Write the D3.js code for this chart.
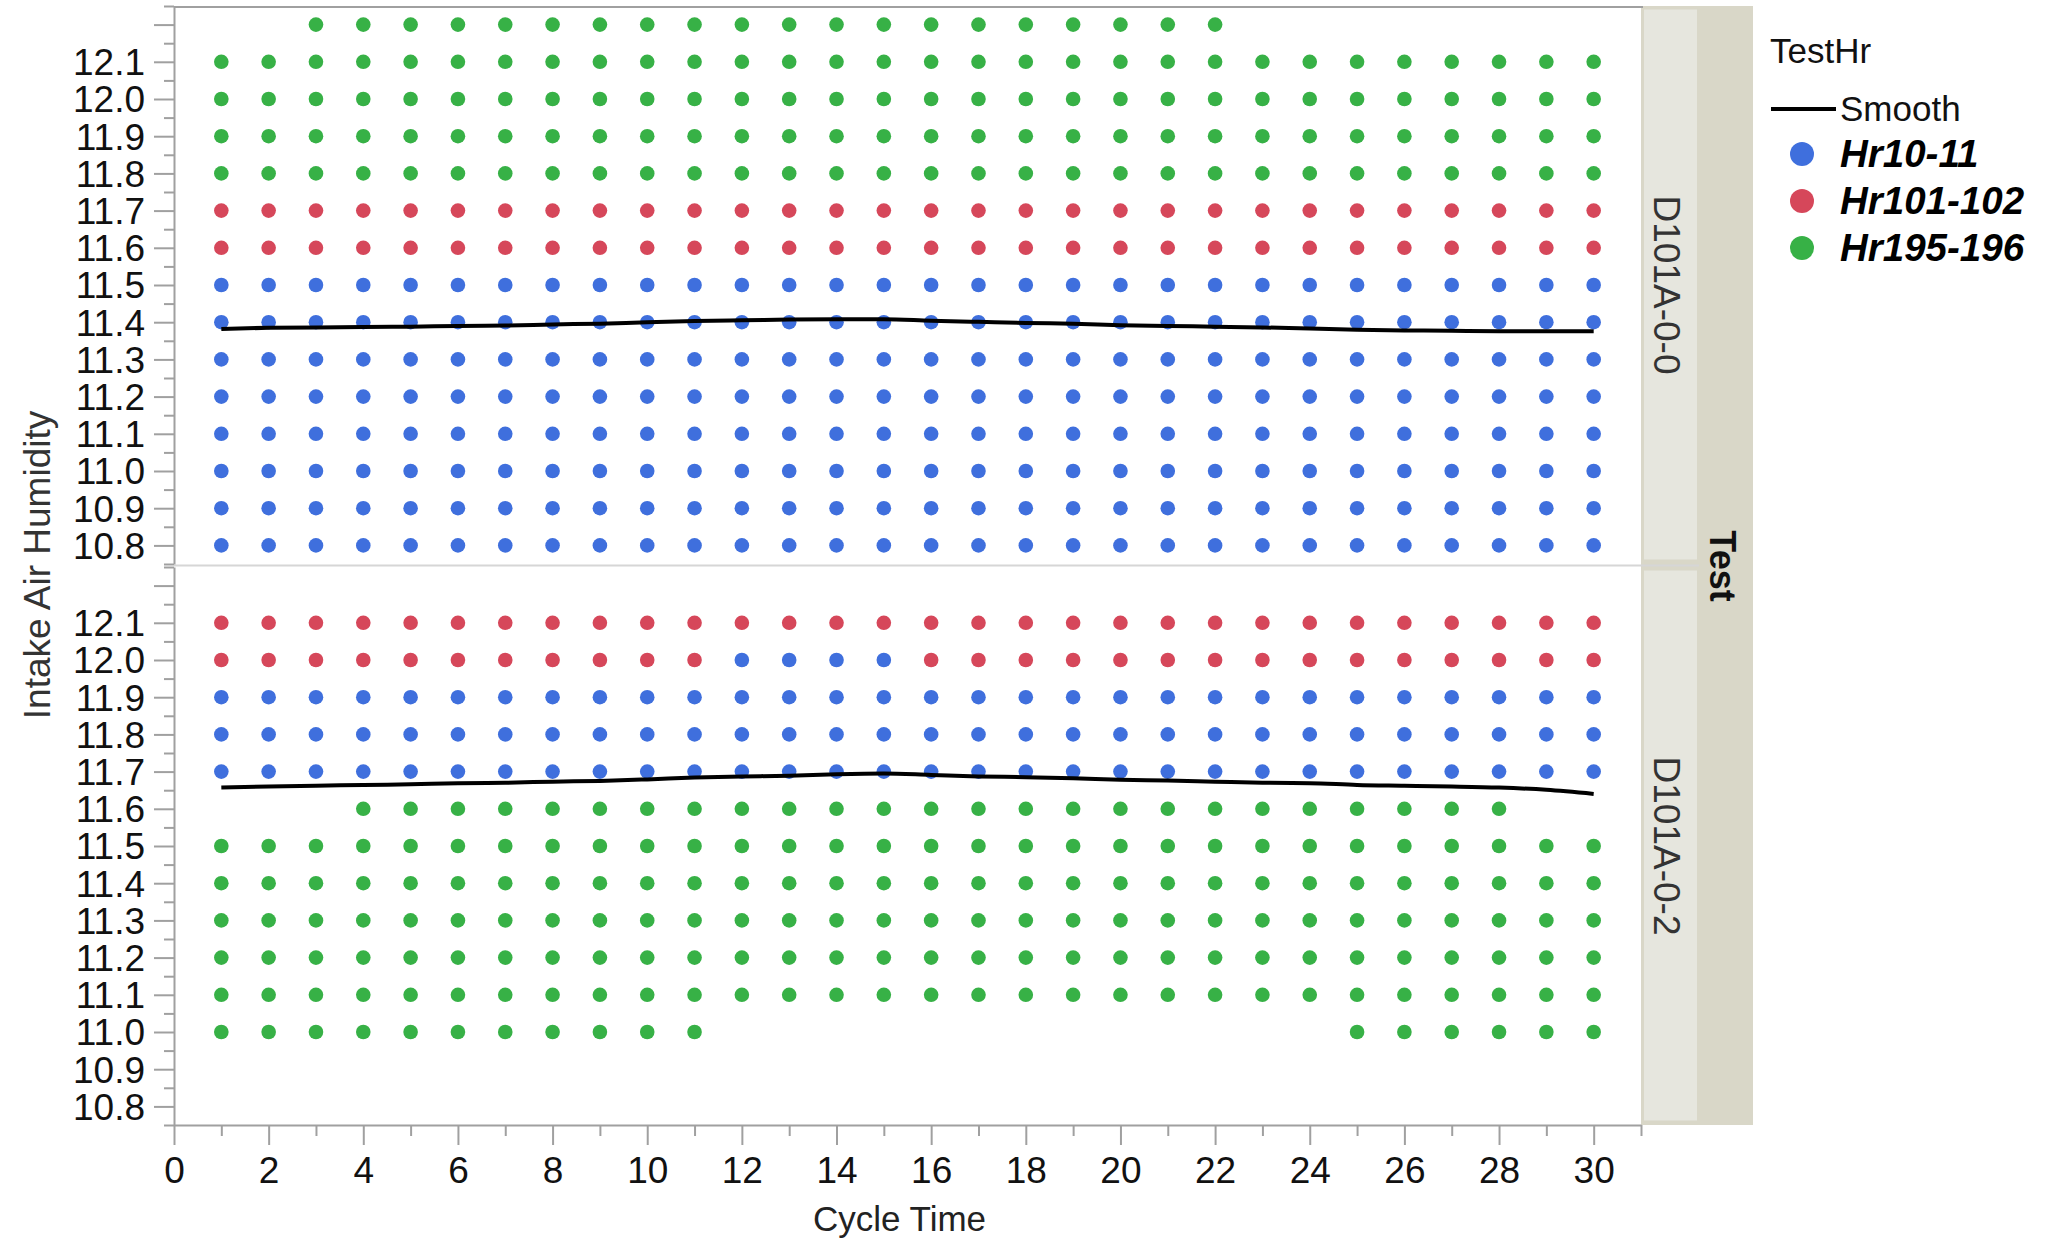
<!DOCTYPE html>
<html>
<head>
<meta charset="utf-8">
<script src="https://cdn.jsdelivr.net/npm/d3@7"></script>
<style>
  html, body { margin: 0; padding: 0; background: #ffffff; }
  svg { display: block; font-family: "Liberation Sans", Arial, sans-serif; }
</style>
</head>
<body>
<svg id="chart" width="2049" height="1246"></svg>
<script>
// ---------------- DATA ----------------
const testHrGroups = ["Hr10-11", "Hr101-102", "Hr195-196"];
const groupColors = ["#3f6fdd", "#d6475a", "#37b146"];
const testPanels = ["D101A-0-0", "D101A-0-2"];

const allCycles = [1,2,3,4,5,6,7,8,9,10,11,12,13,14,15,16,17,18,19,20,21,22,23,24,25,26,27,28,29,30];
const cycles3to22 = [3,4,5,6,7,8,9,10,11,12,13,14,15,16,17,18,19,20,21,22];
const cycles4to28 = [4,5,6,7,8,9,10,11,12,13,14,15,16,17,18,19,20,21,22,23,24,25,26,27,28];
const cyclesLowGap = [1,2,3,4,5,6,7,8,9,10,11,25,26,27,28,29,30];
const cyclesRedBreak = [1,2,3,4,5,6,7,8,9,10,11,16,17,18,19,20,21,22,23,24,25,26,27,28,29,30];
const cyclesBlueBreak = [12,13,14,15];

// rows of points: humidity value, TestHr group, cycle times
const pointsD101A00 = [
  { hum: 12.2, grp: "Hr195-196", cyc: cycles3to22 },
  { hum: 12.1, grp: "Hr195-196", cyc: allCycles },
  { hum: 12.0, grp: "Hr195-196", cyc: allCycles },
  { hum: 11.9, grp: "Hr195-196", cyc: allCycles },
  { hum: 11.8, grp: "Hr195-196", cyc: allCycles },
  { hum: 11.7, grp: "Hr101-102", cyc: allCycles },
  { hum: 11.6, grp: "Hr101-102", cyc: allCycles },
  { hum: 11.5, grp: "Hr10-11",   cyc: allCycles },
  { hum: 11.4, grp: "Hr10-11",   cyc: allCycles },
  { hum: 11.3, grp: "Hr10-11",   cyc: allCycles },
  { hum: 11.2, grp: "Hr10-11",   cyc: allCycles },
  { hum: 11.1, grp: "Hr10-11",   cyc: allCycles },
  { hum: 11.0, grp: "Hr10-11",   cyc: allCycles },
  { hum: 10.9, grp: "Hr10-11",   cyc: allCycles },
  { hum: 10.8, grp: "Hr10-11",   cyc: allCycles }
];

const pointsD101A02 = [
  { hum: 12.1, grp: "Hr101-102", cyc: allCycles },
  { hum: 12.0, grp: "Hr101-102", cyc: cyclesRedBreak },
  { hum: 12.0, grp: "Hr10-11",   cyc: cyclesBlueBreak },
  { hum: 11.9, grp: "Hr10-11",   cyc: allCycles },
  { hum: 11.8, grp: "Hr10-11",   cyc: allCycles },
  { hum: 11.7, grp: "Hr10-11",   cyc: allCycles },
  { hum: 11.6, grp: "Hr195-196", cyc: cycles4to28 },
  { hum: 11.5, grp: "Hr195-196", cyc: allCycles },
  { hum: 11.4, grp: "Hr195-196", cyc: allCycles },
  { hum: 11.3, grp: "Hr195-196", cyc: allCycles },
  { hum: 11.2, grp: "Hr195-196", cyc: allCycles },
  { hum: 11.1, grp: "Hr195-196", cyc: allCycles },
  { hum: 11.0, grp: "Hr195-196", cyc: cyclesLowGap }
];

// smoother values at each cycle time
const smoothD101A00 = [11.382,11.385,11.386,11.387,11.388,11.390,11.391,11.394,11.396,11.400,
                       11.403,11.405,11.407,11.408,11.408,11.404,11.401,11.398,11.396,11.392,
                       11.390,11.388,11.386,11.383,11.380,11.378,11.377,11.376,11.376,11.376];
const smoothD101A02 = [11.657,11.660,11.662,11.664,11.666,11.669,11.670,11.673,11.675,11.679,
                       11.684,11.687,11.689,11.693,11.695,11.691,11.687,11.685,11.682,11.678,
                       11.676,11.673,11.670,11.669,11.664,11.662,11.660,11.657,11.651,11.640];

const xMajorTicks = [0,2,4,6,8,10,12,14,16,18,20,22,24,26,28,30];
const xMinorTicks = [1,3,5,7,9,11,13,15,17,19,21,23,25,27,29,31];
const yMajorTicks = [10.8,10.9,11.0,11.1,11.2,11.3,11.4,11.5,11.6,11.7,11.8,11.9,12.0,12.1,12.2];
const yLabelTicks = ["10.8","10.9","11.0","11.1","11.2","11.3","11.4","11.5","11.6","11.7","11.8","11.9","12.0","12.1"];
const yMinorTicks = [10.75,10.85,10.95,11.05,11.15,11.25,11.35,11.45,11.55,11.65,11.75,11.85,11.95,12.05,12.15,12.25];

// ---------------- DRAW ----------------
const svg = d3.select("#chart");
const axisColor = "#a0a0a0";
const plotLeft = 174, plotRight = 1641;

const x = d3.scaleLinear().domain([0, 31]).range([plotLeft, plotRight]);
const color = d3.scaleOrdinal().domain(testHrGroups).range(groupColors);

const panelDefs = [
  { name: testPanels[0], top: 6, bottom: 564, pts: pointsD101A00, smooth: smoothD101A00 },
  { name: testPanels[1], top: 567, bottom: 1125, pts: pointsD101A02, smooth: smoothD101A02 }
];

// strip background
svg.append("rect").attr("x", 1641).attr("y", 6).attr("width", 112).attr("height", 1119)
  .attr("fill", "#d9d7c8");
panelDefs.forEach((p, i) => {
  svg.append("rect").attr("x", 1644).attr("y", p.top + 3.5)
    .attr("width", 53).attr("height", p.bottom - p.top - 8)
    .attr("fill", "#e6e6de");
});

// top frame line
svg.append("line").attr("x1", plotLeft).attr("x2", 1643).attr("y1", 7).attr("y2", 7)
  .attr("stroke", axisColor).attr("stroke-width", 2);
// divider between panels
svg.append("line").attr("x1", plotLeft).attr("x2", 1699).attr("y1", 565.5).attr("y2", 565.5)
  .attr("stroke", "#d6d6d6").attr("stroke-width", 2);

const line = d3.line().curve(d3.curveMonotoneX);

panelDefs.forEach((p) => {
  const y = d3.scaleLinear().domain([10.75, 12.25]).range([p.bottom, p.top]);
  const g = svg.append("g");

  // flatten rows into points
  const flat = [];
  p.pts.forEach(r => r.cyc.forEach(c => flat.push({ c: c, h: r.hum, grp: r.grp })));
  g.selectAll("circle").data(flat).enter().append("circle")
    .attr("cx", d => x(d.c)).attr("cy", d => y(d.h)).attr("r", 7.3)
    .attr("fill", d => color(d.grp));

  // smooth line
  g.append("path")
    .attr("d", line(p.smooth.map((v, i) => [x(allCycles[i]), y(v)])))
    .attr("fill", "none").attr("stroke", "#000").attr("stroke-width", 4);

  // y axis minor
  const yMinor = svg.append("g").attr("transform", `translate(${plotLeft},0)`)
    .call(d3.axisLeft(y).tickValues(yMinorTicks).tickSize(10).tickSizeOuter(0).tickFormat(""));
  yMinor.select(".domain").remove();
  yMinor.selectAll("line").attr("stroke", axisColor).attr("stroke-width", 2);

  // y axis major
  const yAx = svg.append("g").attr("transform", `translate(${plotLeft},0)`)
    .call(d3.axisLeft(y).tickValues(yMajorTicks).tickSize(20).tickSizeOuter(0).tickPadding(9)
      .tickFormat(d => { const s = d3.format(".1f")(d); return yLabelTicks.includes(s) ? s : ""; }));
  yAx.select(".domain").attr("stroke", axisColor).attr("stroke-width", 2);
  yAx.selectAll("line").attr("stroke", axisColor).attr("stroke-width", 2);
  yAx.selectAll("text").attr("font-size", 37).attr("fill", "#111")
    .attr("font-family", "'Liberation Sans', Arial, sans-serif").attr("dy", "0.35em");

  // strip label
  svg.append("text")
    .attr("transform", `translate(1654,${(p.top + p.bottom) / 2}) rotate(90)`)
    .attr("text-anchor", "middle").attr("font-size", 37).attr("fill", "#333")
    .text(p.name);
});

// outer strip label
svg.append("text")
  .attr("transform", `translate(1710,566) rotate(90)`)
  .attr("text-anchor", "middle").attr("font-size", 36).attr("font-weight", "bold").attr("fill", "#111")
  .text("Test");

// x axis
const xMinor = svg.append("g").attr("transform", "translate(0,1125)")
  .call(d3.axisBottom(x).tickValues(xMinorTicks).tickSize(11).tickSizeOuter(0).tickFormat(""));
xMinor.select(".domain").remove();
xMinor.selectAll("line").attr("stroke", axisColor).attr("stroke-width", 2);

const xAx = svg.append("g").attr("transform", "translate(0,1125)")
  .call(d3.axisBottom(x).tickValues(xMajorTicks).tickSize(20).tickSizeOuter(0).tickPadding(12)
    .tickFormat(d3.format("d")));
xAx.select(".domain").attr("stroke", axisColor).attr("stroke-width", 2);
xAx.selectAll("line").attr("stroke", axisColor).attr("stroke-width", 2);
xAx.selectAll("text").attr("font-size", 37).attr("fill", "#111")
  .attr("font-family", "'Liberation Sans', Arial, sans-serif");

// axis titles
svg.append("text").attr("x", (plotLeft + plotRight) / 2 - 8).attr("y", 1231)
  .attr("text-anchor", "middle").attr("font-size", 35).attr("fill", "#222")
  .text("Cycle Time");
svg.append("text").attr("transform", "translate(50,565) rotate(-90)")
  .attr("text-anchor", "middle").attr("font-size", 37).attr("fill", "#333")
  .text("Intake Air Humidity");

// legend
const lg = svg.append("g");
lg.append("text").attr("x", 1770).attr("y", 63).attr("font-size", 35).attr("fill", "#111").text("TestHr");
lg.append("line").attr("x1", 1771).attr("x2", 1836).attr("y1", 109).attr("y2", 109)
  .attr("stroke", "#000").attr("stroke-width", 4);
lg.append("text").attr("x", 1840).attr("y", 121).attr("font-size", 35).attr("fill", "#111").text("Smooth");
testHrGroups.forEach((gName, i) => {
  const cy = 154 + i * 47;
  lg.append("circle").attr("cx", 1802).attr("cy", cy).attr("r", 12).attr("fill", color(gName));
  lg.append("text").attr("x", 1840).attr("y", cy + 13).attr("font-size", 38.5)
    .attr("font-weight", "bold").attr("font-style", "italic").attr("fill", "#000").text(gName);
});
</script>
</body>
</html>
